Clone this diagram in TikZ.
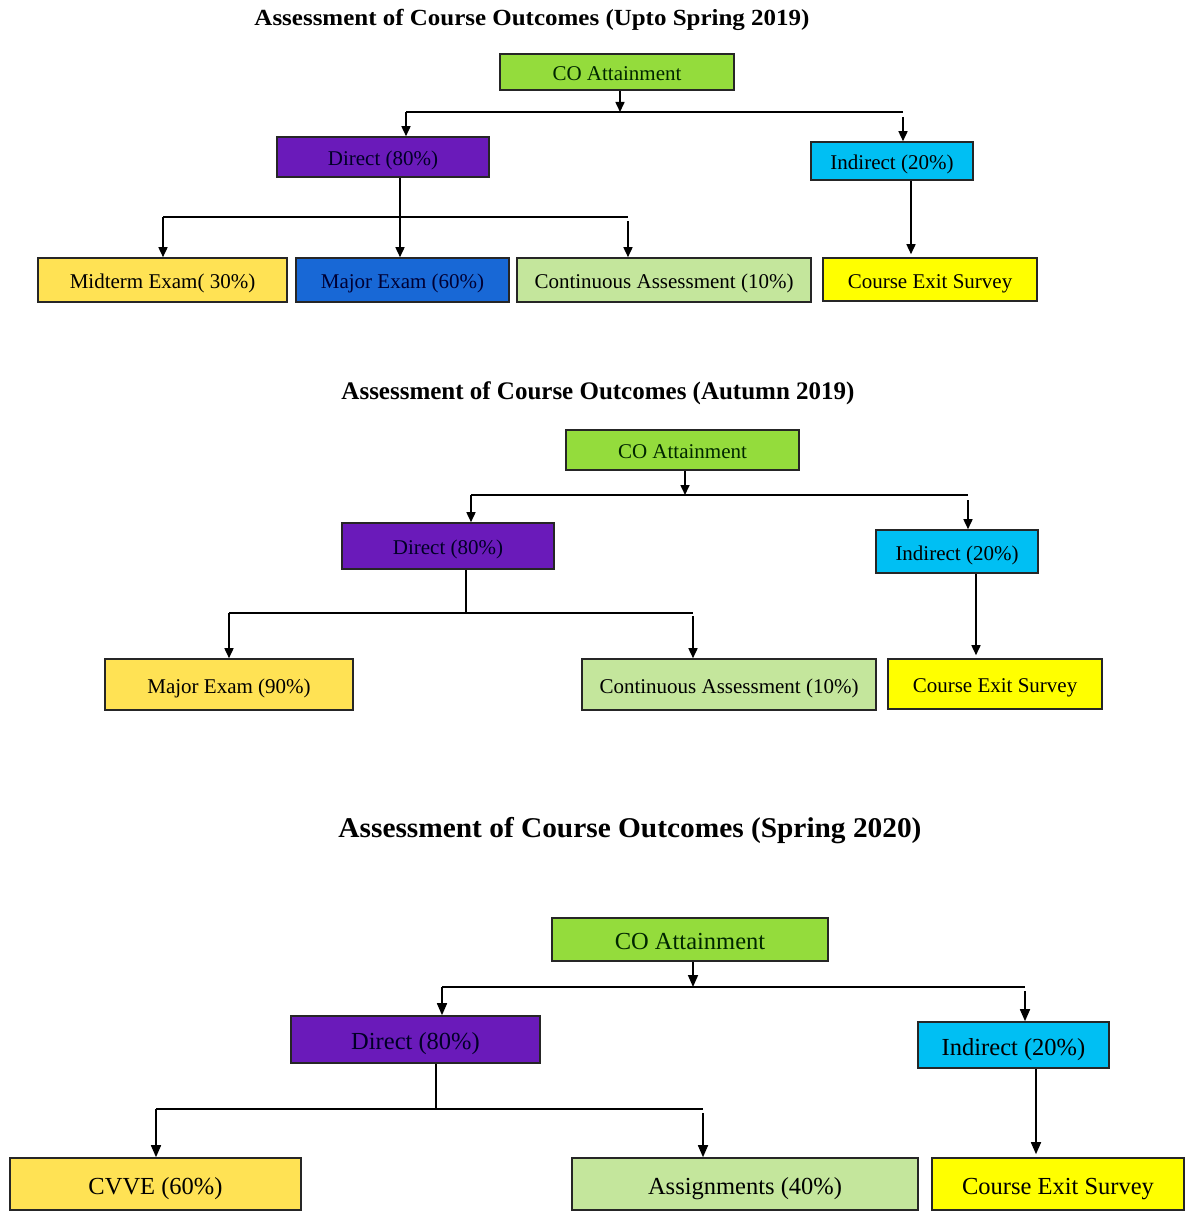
\documentclass[tikz,border=0pt]{standalone}
\usepackage{fontspec}
\setmainfont{Liberation Serif}
\usetikzlibrary{arrows.meta}
\definecolor{cogreen}{HTML}{94DC3C}
\definecolor{dirpurple}{HTML}{6A1ABA}
\definecolor{indcyan}{HTML}{00BFF3}
\definecolor{examyellow}{HTML}{FFE254}
\definecolor{majorblue}{HTML}{1868D6}
\definecolor{contgreen}{HTML}{C4E69C}
\definecolor{exityellow}{HTML}{FFFF00}
\definecolor{edge}{HTML}{262626}
\newcommand\fitw[3]{\resizebox{#1}{#2\height}{#3}}
\tikzset{
  box/.style={draw=edge, line width=1.6pt, inner sep=0pt, align=center},
  txtA/.style={font=\fontsize{21}{25}\selectfont, text height=17.5pt, text depth=0pt},
  txtB/.style={font=\fontsize{24.5}{29}\selectfont, text height=20pt, text depth=0pt},
  ttl/.style={font=\bfseries\fontsize{22}{26}\selectfont, inner sep=0pt},
  link/.style={draw=black, line width=1.6pt},
  arr/.style={link, -{Triangle[length=10pt,width=9pt]}},
  arrB/.style={link, -{Triangle[length=12pt,width=10pt]}},
}
\begin{document}
\begin{tikzpicture}[x=1pt,y=-1pt]
\useasboundingbox[fill=white] (0,0) rectangle (1188,1212);

% ---------------- Diagram 1 ----------------
\node[ttl] (t1) at (532,20) {\fitw{555pt}{1.05}{Assessment of Course Outcomes (Upto Spring 2019)}};
\node[box,txtA,fill=cogreen,text=black!85!green,minimum width=234pt,minimum height=36pt] (co1) at (617,72) {CO Attainment};
\node[box,txtA,fill=dirpurple,text=black!85!blue,minimum width=212pt,minimum height=40pt] (d1) at (383,157) {Direct (80\%)};
\node[box,txtA,fill=indcyan,minimum width=162pt,minimum height=38pt] (i1) at (892,161) {Indirect (20\%)};
\node[box,txtA,fill=examyellow,minimum width=249pt,minimum height=44pt] (m1) at (162.5,280) {Midterm Exam( 30\%)};
\node[box,txtA,fill=majorblue,text=black!80!blue,minimum width=213pt,minimum height=44pt] (mj1) at (402.5,280) {Major Exam (60\%)};
\node[box,txtA,fill=contgreen,minimum width=294pt,minimum height=44pt] (c1) at (664,280) {Continuous Assessment (10\%)};
\node[box,txtA,fill=exityellow,minimum width=214pt,minimum height=43pt] (e1) at (930,279.5) {Course Exit Survey};

\coordinate (j1) at (620,112);
\coordinate (bl1) at (406,112);
\coordinate (br1) at (903,112);
\draw[arr] (j1 |- co1.south) -- (j1);
\draw[link] (bl1) -- (br1);
\draw[arr] (bl1) -- (bl1 |- d1.north);
\draw[arr] ([yshift=-5pt]br1) -- (br1 |- i1.north);
\coordinate (k1) at (400,217);
\coordinate (kl1) at (163,217);
\coordinate (kr1) at (628,217);
\draw[arr] (k1 |- d1.south) -- (k1 |- mj1.north);
\draw[link] (kl1) -- (kr1);
\draw[arr] (kl1) -- (kl1 |- m1.north);
\draw[arr] ([yshift=-4pt]kr1) -- (kr1 |- c1.north);
\coordinate (x1) at (911,0);
\draw[arr] (x1 |- i1.south) -- ([yshift=3pt]x1 |- e1.north);

% ---------------- Diagram 2 ----------------
\node[ttl] (t2) at (598,393) {\fitw{513pt}{1.15}{Assessment of Course Outcomes (Autumn 2019)}};
\node[box,txtA,fill=cogreen,text=black!85!green,minimum width=233pt,minimum height=40pt] (co2) at (682.5,450) {CO Attainment};
\node[box,txtA,fill=dirpurple,text=black!85!blue,minimum width=212pt,minimum height=46pt] (d2) at (448,546) {Direct (80\%)};
\node[box,txtA,fill=indcyan,minimum width=162pt,minimum height=43pt] (i2) at (957,551.5) {Indirect (20\%)};
\node[box,txtA,fill=examyellow,minimum width=248pt,minimum height=51pt] (mj2) at (229,684.5) {Major Exam (90\%)};
\node[box,txtA,fill=contgreen,minimum width=294pt,minimum height=51pt] (c2) at (729,684.5) {Continuous Assessment (10\%)};
\node[box,txtA,fill=exityellow,minimum width=214pt,minimum height=50pt] (e2) at (995,684) {Course Exit Survey};

\coordinate (j2) at (685,495);
\coordinate (bl2) at (471,495);
\coordinate (br2) at (968,495);
\draw[arr] (j2 |- co2.south) -- (j2);
\draw[link] (bl2) -- (br2);
\draw[arr] (bl2) -- (bl2 |- d2.north);
\draw[arr] ([yshift=-5pt]br2) -- (br2 |- i2.north);
\coordinate (k2) at (466,613);
\coordinate (kl2) at (229,613);
\coordinate (kr2) at (693,613);
\draw[link] (k2 |- d2.south) -- (k2);
\draw[link] (kl2) -- (kr2);
\draw[arr] (kl2) -- (kl2 |- mj2.north);
\draw[arr] ([yshift=-3pt]kr2) -- (kr2 |- c2.north);
\coordinate (x2) at (976,0);
\draw[arr] (x2 |- i2.south) -- ([yshift=3pt]x2 |- e2.north);

% ---------------- Diagram 3 ----------------
\node[ttl] (t3) at (630,831) {\fitw{583pt}{1.3}{Assessment of Course Outcomes (Spring 2020)}};
\node[box,txtB,fill=cogreen,text=black!85!green,minimum width=276pt,minimum height=43pt] (co3) at (690,939.5) {CO Attainment};
\node[box,txtB,fill=dirpurple,text=black!85!blue,minimum width=249pt,minimum height=47pt] (d3) at (415.5,1039.5) {Direct (80\%)};
\node[box,txtB,fill=indcyan,minimum width=191pt,minimum height=46pt] (i3) at (1013.5,1045) {Indirect (20\%)};
\node[box,txtB,fill=examyellow,minimum width=291pt,minimum height=52pt] (cv3) at (155.5,1184) {CVVE (60\%)};
\node[box,txtB,fill=contgreen,minimum width=346pt,minimum height=52pt] (a3) at (745,1184) {Assignments (40\%)};
\node[box,txtB,fill=exityellow,minimum width=252pt,minimum height=52pt] (e3) at (1058,1184) {Course Exit Survey};

\coordinate (j3) at (693,987);
\coordinate (bl3) at (442,987);
\coordinate (br3) at (1025,987);
\draw[arrB] (j3 |- co3.south) -- (j3);
\draw[link] (bl3) -- (br3);
\draw[arrB] (bl3) -- (bl3 |- d3.north);
\draw[arrB] ([yshift=-4pt]br3) -- (br3 |- i3.north);
\coordinate (k3) at (436,1109);
\coordinate (kl3) at (156,1109);
\coordinate (kr3) at (703,1109);
\draw[link] (k3 |- d3.south) -- (k3);
\draw[link] (kl3) -- (kr3);
\draw[arrB] (kl3) -- (kl3 |- cv3.north);
\draw[arrB] ([yshift=-4pt]kr3) -- (kr3 |- a3.north);
\coordinate (x3) at (1036,0);
\draw[arrB] (x3 |- i3.south) -- ([yshift=3pt]x3 |- e3.north);
\end{tikzpicture}
\end{document}
